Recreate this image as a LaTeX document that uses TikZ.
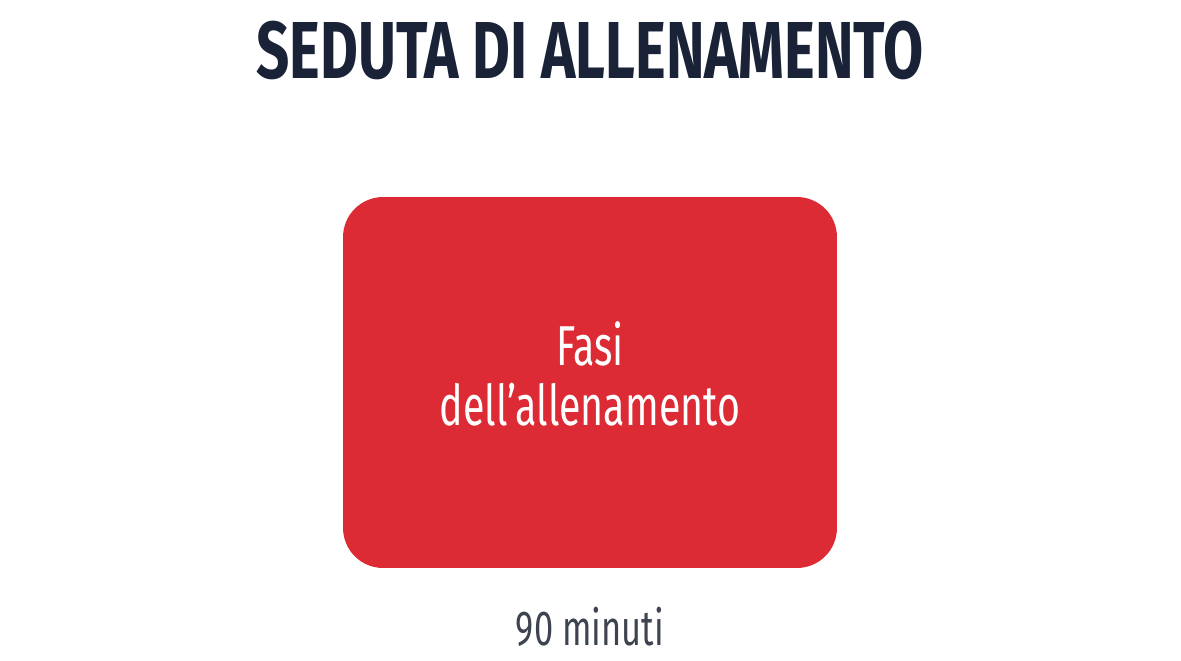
\documentclass[tikz,border=0pt]{standalone}
\usepackage{fontspec}
\newfontfamily\titlefont{Fira Sans}[FakeStretch=0.72]
\newfontfamily\boxfont{Fira Sans}[FakeStretch=0.70]
\definecolor{navy}{HTML}{1A2238}
\definecolor{boxred}{HTML}{DC2B34}
\definecolor{slate}{HTML}{3D4450}
\tikzset{
  fase/.style={fill=boxred, rounded corners=0.8cm, minimum width=9.88cm, minimum height=7.42cm, text=white, align=center, font=\boxfont\fontsize{32}{34}\selectfont},
}
\begin{document}
\begin{tikzpicture}[x=0.02cm,y=-0.02cm]
			\useasboundingbox (0,0) rectangle (1181,660);
			
			\node[anchor=base, text=navy, font=\titlefont\bfseries\fontsize{46}{46}\selectfont](title) at (590,78) {SEDUTA DI ALLENAMENTO};
			\node[fase](fasi) at (590,382.5) {};
			\node[align=center, text=white, font=\boxfont\fontsize{32}{34}\selectfont](fasitesto) at (590,374) {Fasi\\dell’allenamento};
			\node[anchor=base, text=slate, font=\boxfont\fontsize{28}{28}\selectfont](durata) at (590,645) {90 minuti};
\end{tikzpicture}
\end{document}
